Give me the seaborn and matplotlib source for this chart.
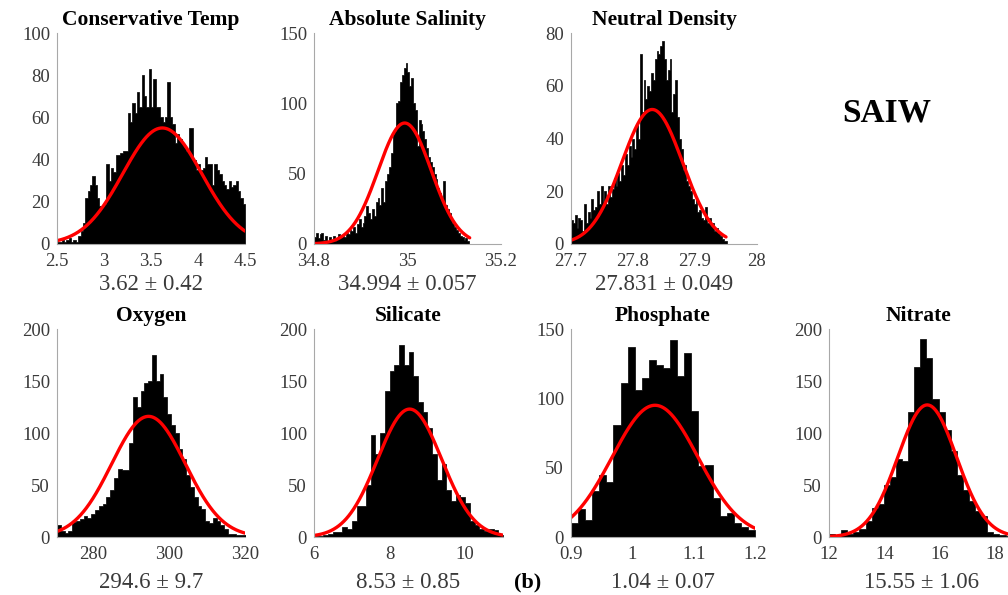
import numpy as np
import pandas as pd
import matplotlib
matplotlib.use("Agg")
import matplotlib.pyplot as plt
import seaborn as sns

# ---------------- data ----------------
titles = ["Conservative Temp", "Absolute Salinity", "Neutral Density",
          "Oxygen", "Silicate", "Phosphate", "Nitrate"]
stat_labels = ["3.62 \u00b1 0.42", "34.994 \u00b1 0.057", "27.831 \u00b1 0.049",
               "294.6 \u00b1 9.7", "8.53 \u00b1 0.85", "1.04 \u00b1 0.07", "15.55 \u00b1 1.06"]

ct_counts = [1, 1, 2, 1, 2, 3, 1, 2, 1, 4, 6, 10, 22, 25, 28, 32, 28, 22, 18, 18,
             19, 38, 30, 36, 34, 42, 42, 43, 44, 44, 62, 58, 67, 62, 72, 65, 80, 70, 65, 83,
             65, 78, 65, 65, 60, 58, 60, 77, 60, 57, 48, 52, 50, 48, 46, 44, 55, 55, 40, 35,
             38, 35, 36, 41, 38, 38, 28, 38, 35, 33, 30, 28, 26, 30, 27, 28, 30, 25, 22, 19]
sa_counts = [5, 8, 4, 7, 8, 3, 6, 2, 5, 3, 6, 2, 4, 7, 5, 6, 5, 8, 7, 10,
             9, 12, 8, 14, 18, 12, 15, 20, 27, 22, 18, 25, 20, 30, 33, 28, 40, 30, 45, 50,
             55, 65, 78, 80, 100, 102, 115, 120, 125, 129, 122, 112, 118, 100, 95, 70, 88, 85, 80, 75,
             68, 62, 58, 55, 50, 46, 40, 36, 33, 45, 28, 25, 22, 18, 15, 12, 10, 8, 6, 5,
             3, 4, 2]
nd_counts = [9, 8, 11, 6, 10, 9, 5, 15, 8, 12, 10, 17, 13, 14, 20, 15, 22, 16, 20, 15,
             22, 18, 21, 25, 22, 27, 24, 30, 26, 34, 30, 37, 33, 40, 36, 45, 40, 72, 50, 62,
             55, 60, 58, 65, 62, 70, 73, 72, 75, 77, 70, 62, 66, 70, 50, 57, 62, 48, 40, 36,
             28, 30, 24, 22, 20, 17, 15, 18, 12, 13, 10, 9, 14, 8, 10, 7, 8, 5, 6, 4,
             3, 2, 1, 1]
ox_counts = [12, 6, 4, 6, 14, 15, 17, 20, 18, 22, 26, 30, 32, 38, 45, 57, 65, 64, 64, 90,
             135, 125, 140, 148, 150, 175, 150, 157, 135, 118, 108, 100, 85, 75, 60, 48, 38, 30, 27, 15,
             13, 18, 15, 12, 8, 3, 3, 2, 2, 2]
si_counts = [1, 1, 2, 3, 5, 5, 10, 8, 15, 30, 30, 50, 98, 80, 100, 140, 160, 165, 185, 165,
             178, 155, 130, 120, 105, 80, 55, 70, 45, 35, 40, 38, 33, 15, 12, 8, 6, 8, 7, 2]
ph_counts = [10, 20, 12, 33, 45, 40, 81, 111, 137, 106, 115, 128, 124, 122, 142, 116, 133, 91, 51, 52,
             28, 15, 17, 10, 7, 5]
no_counts = [3, 0, 7, 3, 5, 8, 15, 28, 32, 50, 58, 75, 73, 120, 163, 190, 172, 133, 120, 103,
             83, 60, 45, 35, 25, 20, 5, 3, 2, 1]

bin_start = [2.5, 34.8, 27.7, 270.5, 6.0, 0.9, 12.0]
bin_width = [0.025, 0.004, 0.003, 1.0, 0.125, 0.3 / 26, 0.22]

fit_mean = [3.62, 34.994, 27.831, 294.6, 8.53, 1.037, 15.55]
fit_sd = [0.42, 0.057, 0.049, 9.7, 0.85, 0.07, 1.06]
fit_peak = [55, 86, 51, 116, 123, 95, 127]
fit_lo = [2.5, 34.8, 27.7, 270.5, 6.0, 0.9, 12.0]
fit_hi = [4.5, 35.133, 27.95, 320, 11.0, 1.2, 19.0]

x_lims = [(2.5, 4.5), (34.8, 35.2), (27.7, 28.0), (270.5, 320), (6, 11), (0.9, 1.2), (12, 18.47)]
x_ticks = [[2.5, 3, 3.5, 4, 4.5], [34.8, 35, 35.2], [27.7, 27.8, 27.9, 28],
           [280, 300, 320], [6, 8, 10], [0.9, 1, 1.1, 1.2], [12, 14, 16, 18]]
y_maxes = [100, 150, 80, 200, 200, 150, 200]
y_steps = [20, 50, 20, 50, 50, 50, 50]

all_counts = [ct_counts, sa_counts, nd_counts, ox_counts, si_counts, ph_counts, no_counts]

# ---------------- style ----------------
sns.set_style("white")
plt.rcParams["font.family"] = ["Liberation Serif", "DejaVu Serif"]

W, H = 1008, 595
fig = plt.figure(figsize=(W / 100, H / 100), dpi=100)

# axes boxes in pixels: (left, right, top, bottom)
boxes = [(57, 245, 33, 244), (314, 501, 33, 244), (571, 757, 33, 244),
         (57, 245, 329, 537), (314, 503, 329, 537), (571, 755, 329, 537), (829, 1008, 329, 537)]
stat_y = [284, 284, 284, 583, 583, 583, 583]

gray = "#a8a8a8"
tick_col = "#3a3a3a"

for i in range(7):
    l, r, t, b = boxes[i]
    ax = fig.add_axes([l / W, 1 - b / H, (r - l) / W, (b - t) / H])
    counts = np.array(all_counts[i], dtype=float)
    n = len(counts)
    edges = bin_start[i] + bin_width[i] * np.arange(n + 1)
    centers = 0.5 * (edges[:-1] + edges[1:])
    df = pd.DataFrame({"value": centers, "count": counts})
    sns.histplot(data=df, x="value", weights="count", bins=list(edges), ax=ax,
                 element="step", fill=True, color="black", alpha=1.0,
                 linewidth=0.5, edgecolor="black", stat="count")
    xs = np.linspace(fit_lo[i], fit_hi[i], 400)
    ys = fit_peak[i] * np.exp(-0.5 * ((xs - fit_mean[i]) / fit_sd[i]) ** 2)
    fit_df = pd.DataFrame({"x": xs, "y": ys})
    sns.lineplot(data=fit_df, x="x", y="y", ax=ax, color="#ff0000", linewidth=2.4)

    ax.set_xlim(*x_lims[i])
    ax.set_ylim(0, y_maxes[i])
    ax.set_xticks(x_ticks[i])
    ax.set_xticklabels([f"{v:g}" for v in x_ticks[i]])
    yt = np.arange(0, y_maxes[i] + 1, y_steps[i])
    ax.set_yticks(yt)
    ax.set_yticklabels([f"{v:g}" for v in yt])
    ax.set_xlabel("")
    ax.set_ylabel("")
    for side in ["top", "right"]:
        ax.spines[side].set_visible(False)
    for side in ["left", "bottom"]:
        ax.spines[side].set_color(gray)
        ax.spines[side].set_linewidth(0.8)
    ax.tick_params(axis="both", direction="in", length=2, width=0.6, color=gray,
                   labelsize=13.5, labelcolor=tick_col)
    ax.tick_params(axis="x", pad=6.5)
    ax.tick_params(axis="y", pad=5)
    ax.set_title(titles[i], fontsize=15.5, fontweight="bold", color="black", pad=6)
    ax.patch.set_alpha(0)
    cx = (l + r) / 2 if i < 6 else 922
    fig.text(cx / W, 1 - stat_y[i] / H, stat_labels[i], ha="center", va="center",
             fontsize=16.5, color=tick_col)

fig.text(887 / W, 1 - 113 / H, "SAIW", ha="center", va="center",
         fontsize=24, fontweight="bold", color="black")
fig.text(528 / W, 1 - 582 / H, "(b)", ha="center", va="center",
         fontsize=16, fontweight="bold", color="black")

fig.savefig("out.png", dpi=100)
